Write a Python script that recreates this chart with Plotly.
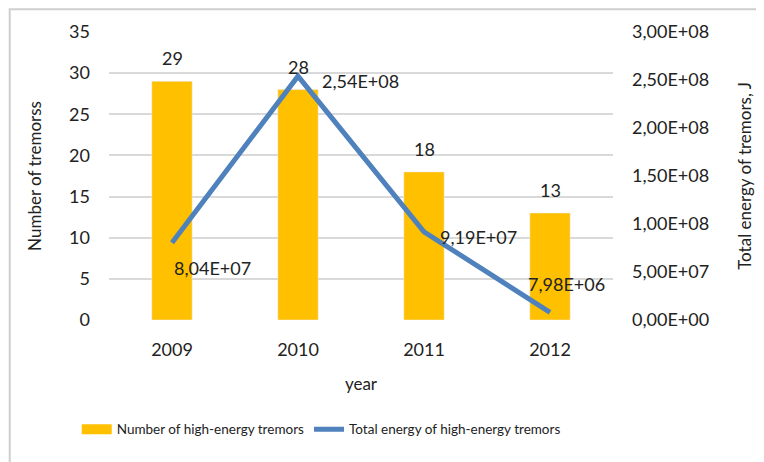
import plotly.graph_objects as go

years = ["2009", "2010", "2011", "2012"]
tremor_counts = [29, 28, 18, 13]
total_energy = [8.04e7, 2.54e8, 9.19e7, 7.98e6]
left_ticks = [0, 5, 10, 15, 20, 25, 30, 35]
right_ticks = [0, 5e7, 1e8, 1.5e8, 2e8, 2.5e8, 3e8]

def sci(v):
    return f"{v:.2E}".replace(".", ",")

FONT = "Lato, Carlito, Calibri, sans-serif"
BAR_C = "#FFC000"
LINE_C = "#4F81BD"
TXT = "#222"

xpos = list(range(len(years)))

fig = go.Figure()
fig.add_trace(go.Bar(x=xpos, y=tremor_counts, name="Number of high-energy tremors",
                     marker_color=BAR_C, width=0.32, yaxis="y", showlegend=False))
# legend entry for bars (wide swatch like the reference)
fig.add_trace(go.Scatter(x=[None], y=[None], mode="lines", name="Number of high-energy tremors",
                         line=dict(color=BAR_C, width=12), showlegend=True))
fig.add_trace(go.Scatter(x=xpos, y=total_energy, name="Total energy of high-energy tremors",
                         mode="lines", line=dict(color=LINE_C, width=5), yaxis="y2"))

# bar labels
for xi, v in zip(xpos, tremor_counts):
    fig.add_annotation(x=xi, y=v, xref="x", yref="y", text=str(v), showarrow=False,
                       yanchor="bottom", yshift=10, font=dict(size=18, color=TXT))

# line labels
shifts = [(40, -25), (62, -5), (54, -5), (16, 28)]
for xi, v, (dx, dy) in zip(xpos, total_energy, shifts):
    fig.add_annotation(x=xi, y=v, xref="x", yref="y2", text=sci(v), showarrow=False,
                       xshift=dx, yshift=dy, font=dict(size=18, color=TXT))

# outer border
fig.add_shape(type="rect", xref="paper", yref="paper", x0=-0.197, x1=1.311, y0=-0.6, y1=1.079,
              line=dict(color="#cfcfcf", width=2), fillcolor="rgba(0,0,0,0)", layer="above")

fig.update_layout(
    width=764, height=462,
    margin=dict(l=101, r=159, t=24, b=150),
    paper_bgcolor="white", plot_bgcolor="white",
    font=dict(family=FONT, size=18, color=TXT),
    showlegend=True,
    legend=dict(orientation="h", x=-0.064, xanchor="left", y=-0.38, yanchor="middle",
                font=dict(size=13.5), itemwidth=30, tracegroupgap=0,
                bgcolor="rgba(0,0,0,0)"),
    xaxis=dict(range=[-0.5, 3.5], tickvals=xpos, ticktext=years, showgrid=False,
               zeroline=False, showline=False, ticks="", ticklabelstandoff=17,
               title=dict(text="year", standoff=19, font=dict(size=17)), tickfont=dict(size=18)),
    yaxis=dict(range=[0, 35], tickvals=left_ticks, showgrid=True, gridcolor="#d9d9d9",
               gridwidth=1.5, zeroline=False, ticks="", ticklabelstandoff=18,
               title=dict(text="Number of tremorss", standoff=23, font=dict(size=17)),
               tickfont=dict(size=18)),
    yaxis2=dict(range=[0, 3e8], overlaying="y", side="right", tickvals=right_ticks,
                ticktext=[sci(v) for v in right_ticks], showgrid=False, zeroline=False,
                ticks="", ticklabelstandoff=18,
                title=dict(text="Total energy of tremors, J", standoff=30, font=dict(size=17)),
                tickfont=dict(size=18)),
)

fig.write_html("out.html")
